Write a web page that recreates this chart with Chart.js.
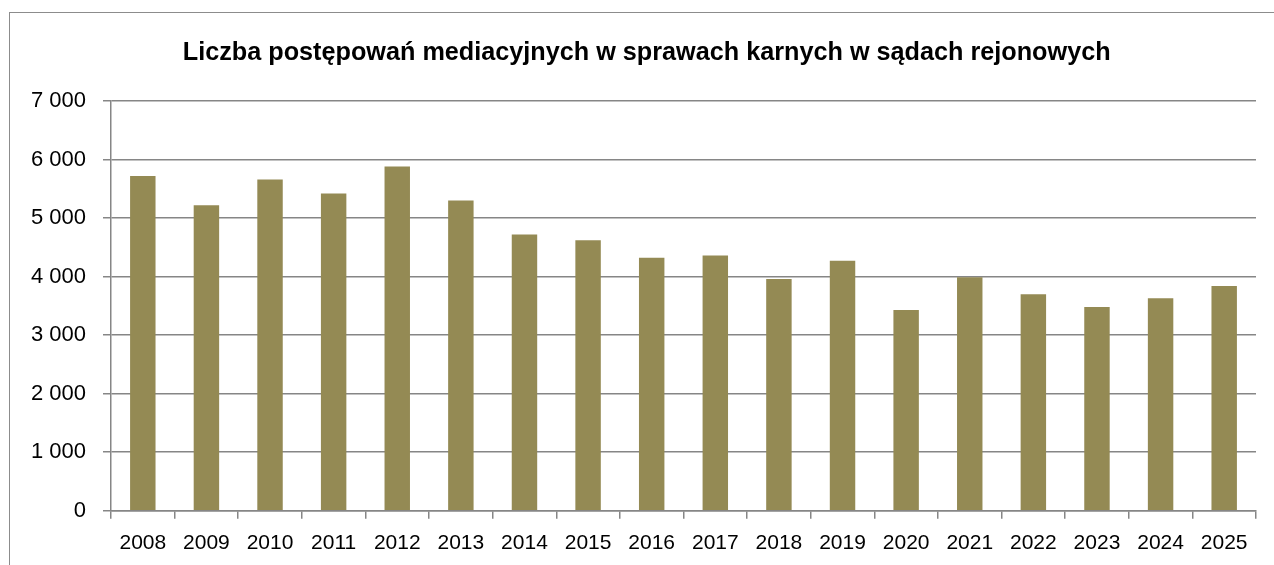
<!DOCTYPE html>
<html>
<head>
<meta charset="utf-8">
<script src="https://cdn.jsdelivr.net/npm/chart.js@4.4.1/dist/chart.umd.min.js"></script>
<style>
  html, body { margin: 0; padding: 0; background: #fff; overflow: hidden; }
  #wrap { position: relative; width: 1274px; height: 565px; }
  #frame { position: absolute; left: 9px; top: 12px; width: 1300px; height: 600px; border: 1px solid #8c8c8c; box-sizing: border-box; pointer-events: none; }
  canvas { position: absolute; left: 0; top: 0; }
</style>
</head>
<body>
<div id="wrap">
  <canvas id="c" width="1274" height="565"></canvas>
  <div id="frame"></div>
</div>
<script>
const titleText = 'Liczba postępowań mediacyjnych w sprawach karnych w sądach rejonowych';
const categories = ['2008','2009','2010','2011','2012','2013','2014','2015','2016','2017','2018','2019','2020','2021','2022','2023','2024','2025'];
const values = [5720, 5220, 5660, 5420, 5880, 5300, 4720, 4620, 4320, 4360, 3960, 4270, 3430, 3990, 3700, 3480, 3630, 3840];
const yMin = 0;
const yMax = 7000;
const yStep = 1000;

const FONT = "'Liberation Sans', Arial, sans-serif";

const titlePlugin = {
  id: 'fittedTitle',
  afterDraw(chart) {
    const ctx = chart.ctx;
    ctx.save();
    ctx.font = "bold 100px " + FONT;
    const w100 = ctx.measureText(titleText).width;
    const size = 100 * 928 / w100;
    ctx.font = "bold " + size.toFixed(2) + "px " + FONT;
    ctx.fillStyle = '#000';
    ctx.textAlign = 'center';
    ctx.textBaseline = 'alphabetic';
    ctx.fillText(titleText, 646.7, 60);
    ctx.restore();
  }
};

new Chart(document.getElementById('c'), {
  type: 'bar',
  data: {
    labels: categories,
    datasets: [{
      data: values,
      backgroundColor: '#948A54',
      borderWidth: 0,
      categoryPercentage: 1.0,
      barPercentage: 0.4
    }]
  },
  options: {
    responsive: false,
    animation: false,
    layout: { padding: { top: 101, right: 18, left: 0, bottom: 0 } },
    plugins: { legend: { display: false }, title: { display: false }, tooltip: { enabled: false } },
    scales: {
      x: {
        offset: true,
        grid: { offset: true, drawOnChartArea: false, drawTicks: true, tickLength: 8, color: '#868686', lineWidth: 1.5 },
        border: { color: '#868686', width: 1.5 },
        ticks: { color: '#000', font: { family: FONT, size: 21 }, padding: 12, maxRotation: 0, autoSkip: false },
        afterFit(s) { s.height = 54.3; }
      },
      y: {
        min: yMin, max: yMax,
        grid: { color: '#868686', lineWidth: 1.5, tickLength: 8 },
        border: { color: '#868686', width: 1.5 },
        ticks: {
          stepSize: yStep,
          color: '#000',
          font: { family: FONT, size: 22 },
          padding: 17,
          callback: (v) => String(v).replace(/\B(?=(\d{3})+(?!\d))/g, ' ')
        },
        afterFit(s) { s.width = 111; }
      }
    }
  },
  plugins: [titlePlugin]
});
</script>
</body>
</html>
